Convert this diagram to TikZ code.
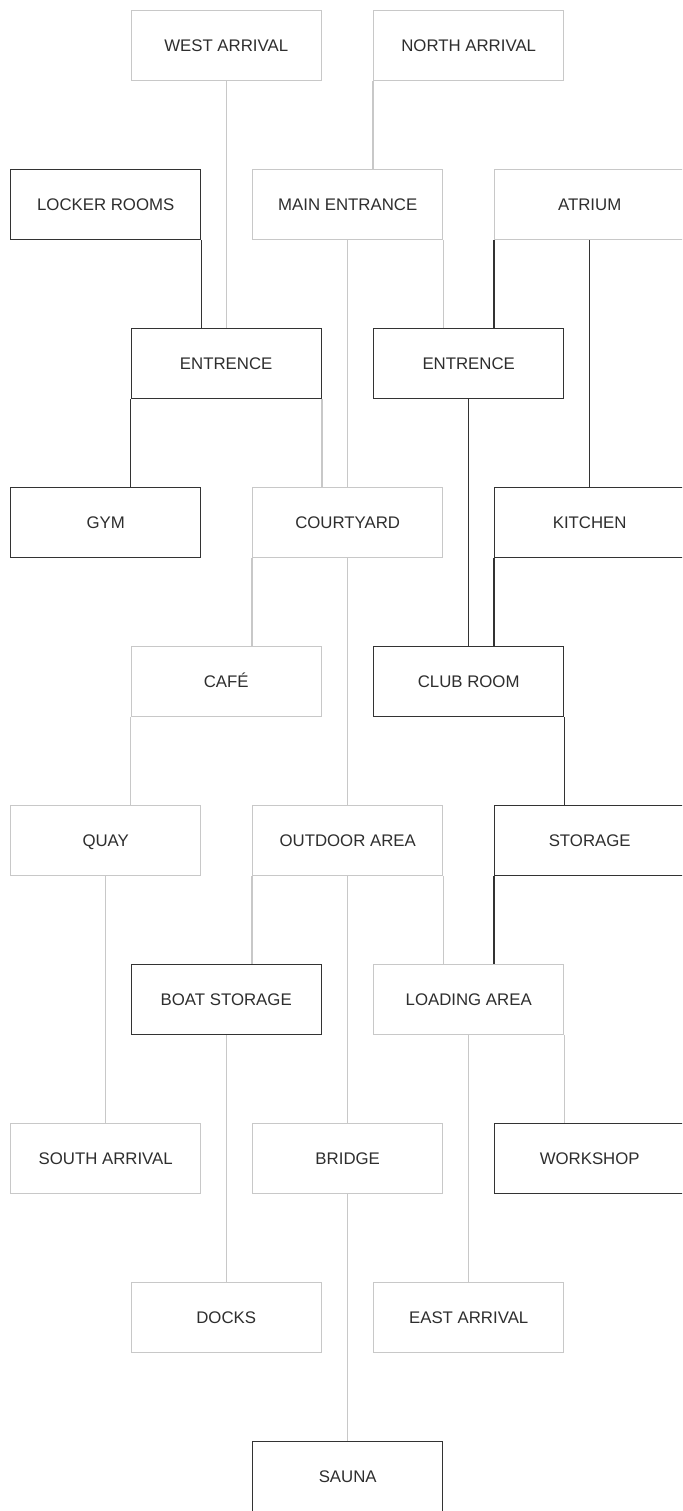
\documentclass[tikz,border=0pt]{standalone}
\usepackage{fontspec}
\setmainfont{Liberation Sans}
\definecolor{dark}{HTML}{333333}
\definecolor{light}{HTML}{C8C8C8}
\definecolor{txt}{HTML}{2E2E2E}
\begin{document}
\begin{tikzpicture}[x=1pt,y=-1pt,
  box/.style={minimum width=190pt, minimum height=70pt, inner sep=0pt, line width=1.4pt,
    font=\fontsize{16.8}{20}\selectfont, text=txt, anchor=north west, fill=white,
    text height=12.5pt, text depth=0.5pt},
  lbox/.style={box, draw=light},
  dbox/.style={box, draw=dark},
  lk/.style={draw=light, line width=1.4pt},
  dk/.style={draw=dark, line width=1.4pt}]
\path[use as bounding box] (0,0) rectangle (682,1511);
\clip (0,0) rectangle (682,1511);
% row 1
\node[lbox] (w)  at (130.5,10) {WEST ARRIVAL};
\node[lbox] (n)  at (373,10) {NORTH ARRIVAL};
% row 2
\node[dbox] (lr) at (10,169) {LOCKER ROOMS};
\node[lbox] (me) at (252,169) {MAIN ENTRANCE};
\node[lbox] (at) at (494,169) {ATRIUM};
% row 3
\node[dbox] (e1) at (130.5,328) {ENTRENCE};
\node[dbox] (e2) at (373,328) {ENTRENCE};
% row 4
\node[dbox] (gym) at (10,487) {GYM};
\node[lbox] (cy)  at (252,487) {COURTYARD};
\node[dbox] (ki)  at (494,487) {KITCHEN};
% row 5
\node[lbox] (cafe) at (130.5,646) {CAFÉ};
\node[dbox] (cr)   at (373,646) {CLUB ROOM};
% row 6
\node[lbox] (quay) at (10,805) {QUAY};
\node[lbox] (oa)   at (252,805) {OUTDOOR AREA};
\node[dbox] (st)   at (494,805) {STORAGE};
% row 7
\node[dbox] (bs) at (130.5,964) {BOAT STORAGE};
\node[lbox] (la) at (373,964) {LOADING AREA};
% row 8
\node[lbox] (sa) at (10,1123) {SOUTH ARRIVAL};
\node[lbox] (br) at (252,1123) {BRIDGE};
\node[dbox] (ws) at (494,1123) {WORKSHOP};
% row 9
\node[lbox] (docks) at (130.5,1282) {DOCKS};
\node[lbox] (ea)    at (373,1282) {EAST ARRIVAL};
% row 10
\node[dbox] (sauna) at (252,1441) {SAUNA};
% connectors
\draw[lk] (w.south) -- (w.south |- e1.north);
\draw[dk] (lr.south east) -- (lr.south east |- e1.north);
\draw[lk] (n.south west) -- (n.south west |- me.north);
\draw[lk] (me.south) -- (me.south |- cy.north);
\draw[lk] (me.south east) -- (me.south east |- e2.north);
\draw[dk] (at.south west) -- (at.south west |- e2.north);
\draw[dk] (at.south) -- (at.south |- ki.north);
\draw[dk] (e1.south west) -- (e1.south west |- gym.north);
\draw[lk] (e1.south east) -- (e1.south east |- cy.north);
\draw[dk] (e2.south) -- (e2.south |- cr.north);
\draw[dk] (ki.south west) -- (ki.south west |- cr.north);
\draw[lk] (cy.south west) -- (cy.south west |- cafe.north);
\draw[lk] (cy.south) -- (cy.south |- oa.north);
\draw[lk] (cafe.south west) -- (cafe.south west |- quay.north);
\draw[dk] (cr.south east) -- (cr.south east |- st.north);
\draw[lk] (quay.south) -- (quay.south |- sa.north);
\draw[lk] (oa.south west) -- (oa.south west |- bs.north);
\draw[lk] (oa.south) -- (oa.south |- br.north);
\draw[lk] (oa.south east) -- (oa.south east |- la.north);
\draw[dk] (st.south west) -- (st.south west |- la.north);
\draw[lk] (bs.south) -- (bs.south |- docks.north);
\draw[lk] (la.south) -- (la.south |- ea.north);
\draw[lk] (la.south east) -- (la.south east |- ws.north);
\draw[lk] (br.south) -- (br.south |- sauna.north);
\end{tikzpicture}
\end{document}
